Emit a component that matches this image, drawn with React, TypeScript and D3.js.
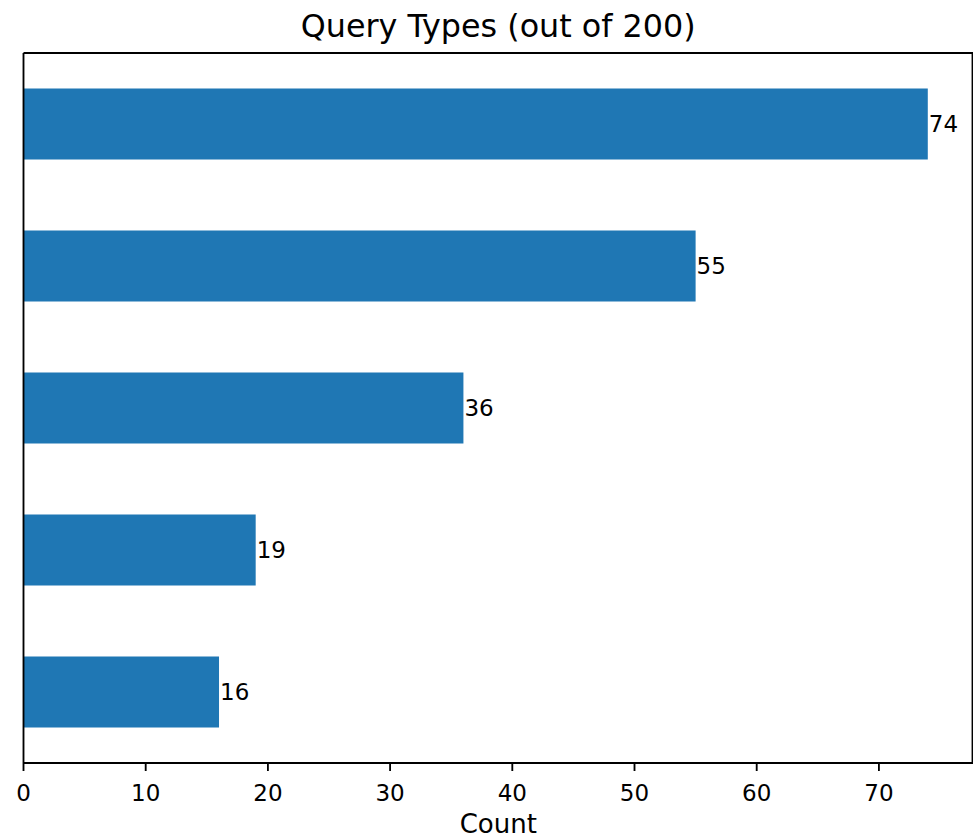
import React from "react";
import * as d3 from "d3";

const categories = ["Type E", "Type D", "Type C", "Type B", "Type A"];
const counts = [16, 19, 36, 55, 74];
const xTicks = [0, 10, 20, 30, 40, 50, 60, 70];
const title = "Query Types (out of 200)";
const xLabel = "Count";

const W = 973;
const H = 840;
const left = 23.5;
const right = 973;
const top = 53;
const bottom = 763;
const FONT = "'DejaVu Sans', sans-serif";

export default function App() {
  const xMax = d3.max(counts)! * 1.05;
  const x = d3.scaleLinear().domain([0, xMax]).range([left, right]);
  const y = d3
    .scaleLinear()
    .domain([-0.5, categories.length - 0.5])
    .range([bottom, top]);
  const barH = Math.abs(y(0.25) - y(-0.25));
  const blue = "#1f77b4";

  return (
    <svg
      width={W}
      height={H}
      style={{ position: "absolute", left: 0, top: 0, background: "#fff" }}
      fontFamily={FONT}
    >
      <rect x={0} y={0} width={W} height={H} fill="#fff" />
      {categories.map((c, i) => (
        <g key={c}>
          <rect
            x={x(0)}
            y={y(i) - barH / 2}
            width={x(counts[i]) - x(0)}
            height={barH}
            fill={blue}
          />
          <text
            x={x(counts[i]) + 1}
            y={y(i)}
            dy="0.35em"
            fontSize={23}
            fill="#000"
          >
            {counts[i]}
          </text>
        </g>
      ))}
      {/* spines */}
      <line x1={left} x2={left} y1={top} y2={bottom} stroke="#000" strokeWidth={1.85} />
      <line x1={right - 0.5} x2={right - 0.5} y1={top} y2={bottom} stroke="#000" strokeWidth={1.85} />
      <line x1={left} x2={right} y1={top} y2={top} stroke="#000" strokeWidth={1.85} />
      <line x1={left} x2={right} y1={bottom} y2={bottom} stroke="#000" strokeWidth={1.85} />
      {/* x ticks */}
      {xTicks.map((t) => (
        <g key={t}>
          <line x1={x(t)} x2={x(t)} y1={bottom} y2={bottom + 8} stroke="#000" strokeWidth={1.85} />
          <text x={x(t)} y={801} textAnchor="middle" fontSize={23} fill="#000">
            {t}
          </text>
        </g>
      ))}
      <text x={(left + right) / 2} y={833} textAnchor="middle" fontSize={26} fill="#000">
        {xLabel}
      </text>
      <text x={(left + right) / 2} y={37} textAnchor="middle" fontSize={31.8} fill="#000">
        {title}
      </text>
    </svg>
  );
}
